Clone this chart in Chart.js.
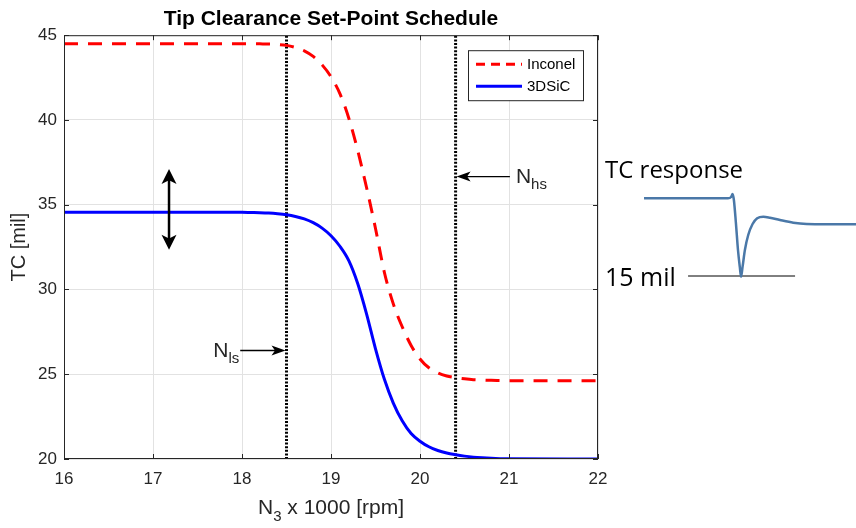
<!DOCTYPE html>
<html>
<head>
<meta charset="utf-8">
<script src="https://cdn.jsdelivr.net/npm/chart.js@4.4.0/dist/chart.umd.min.js"></script>
<style>
  html, body { margin: 0; padding: 0; background: #fff; }
  #wrap { position: relative; width: 856px; height: 528px; }
  #main { position: absolute; left: 0; top: 0; }
  #resp { position: absolute; left: 600px; top: 140px; }
</style>
</head>
<body>
<div id="wrap">
  <canvas id="main" width="856" height="528"></canvas>
  <canvas id="resp" width="256" height="170"></canvas>
</div>
<script>
// N3 x 1000 [rpm]
const speeds = [16, 17, 18, 18.1, 18.2, 18.3, 18.4, 18.5, 18.6, 18.7, 18.8, 18.9,
  19, 19.1, 19.2, 19.3, 19.4, 19.5, 19.6, 19.7, 19.8, 19.9,
  20, 20.1, 20.2, 20.3, 20.4, 20.5, 20.6, 20.7, 20.8, 20.9, 21, 22];
// TC [mil]
const inconel = [44.5, 44.5, 44.5, 44.5, 44.49, 44.48, 44.45, 44.4, 44.28, 44.08, 43.75, 43.25,
  42.55, 41.55, 40.1, 38.2, 36.0, 33.6, 31.0, 29.15, 27.8, 26.7,
  25.9, 25.38, 25.08, 24.9, 24.8, 24.73, 24.68, 24.66, 24.64, 24.63, 24.62, 24.62];
const sic3d = [34.55, 34.55, 34.55, 34.54, 34.53, 34.51, 34.47, 34.41, 34.31, 34.16, 33.94, 33.62,
  33.17, 32.55, 31.7, 30.35, 28.55, 26.5, 24.7, 23.3, 22.25, 21.5,
  21.05, 20.72, 20.5, 20.35, 20.25, 20.17, 20.11, 20.07, 20.04, 20.02, 20.01, 20.0];

const xRange = [16, 22];
const yRange = [20, 45];

// low / high speed set points
const nLs = 18.5;
const nHs = 20.4;

// annotation anchors, data units
const bandX = 17.18;          // double arrow
const bandY = [32.35, 37.1];
const lsArrow = { from: 17.98, y: 26.4 };
const hsArrow = { from: 21.01, y: 36.66 };

// TC response sketch (time, mil)
const respTime = [1.72, 5.0, 5.12, 5.18, 5.23, 5.31, 5.39, 5.46, 5.51, 5.57, 5.66, 5.79, 5.96,
  6.14, 6.38, 6.64, 7.03, 7.55, 8.07, 8.86, 10];
const respTC = [34.43, 34.43, 34.75, 35.5, 34.0, 28.18, 21.5, 17.33, 14.83, 17.33, 21.5, 25.25, 28.0,
  29.43, 29.83, 29.58, 29.0, 28.33, 28.0, 27.93, 27.93];
const floorTime = [3.44, 7.62];
const floorTC = [15, 15];

const FONT = "'Liberation Sans', Arial, sans-serif";
Chart.defaults.font.family = FONT;

const toXY = (xs, ys) => xs.map((x, i) => ({ x: x, y: ys[i] }));

function arrowHead(ctx, x, y, ang, len, wid) {
  const c = Math.cos(ang), s = Math.sin(ang);
  const bx = x - len * c, by = y - len * s;
  ctx.beginPath();
  ctx.moveTo(x, y);
  ctx.lineTo(bx + wid / 2 * s, by - wid / 2 * c);
  ctx.lineTo(x - len * 0.75 * c, y - len * 0.75 * s);
  ctx.lineTo(bx - wid / 2 * s, by + wid / 2 * c);
  ctx.closePath();
  ctx.fill();
}

function subLabel(ctx, x, y, main, sub, size, subSize, align) {
  ctx.font = size + "px " + FONT;
  const w1 = ctx.measureText(main).width;
  ctx.font = subSize + "px " + FONT;
  const w2 = ctx.measureText(sub).width;
  let x0 = x;
  if (align === "right") x0 = x - w1 - w2;
  if (align === "center") x0 = x - (w1 + w2) / 2;
  ctx.textAlign = "left";
  ctx.textBaseline = "alphabetic";
  ctx.font = size + "px " + FONT;
  ctx.fillText(main, x0, y);
  ctx.font = subSize + "px " + FONT;
  ctx.fillText(sub, x0 + w1, y + size * 0.3);
}

const frame = {
  id: "frame",
  afterDraw(chart) {
    const ctx = chart.ctx;
    const a = chart.chartArea;
    const xs = chart.scales.x, ys = chart.scales.y;
    ctx.save();

    // box + inner ticks
    ctx.strokeStyle = "#262626";
    ctx.lineWidth = 1;
    ctx.strokeRect(a.left + 0.5, a.top + 0.5, a.right - a.left - 1, a.bottom - a.top - 1);
    ctx.beginPath();
    xs.ticks.forEach(t => {
      const px = Math.round(xs.getPixelForValue(t.value)) + 0.5;
      ctx.moveTo(px, a.bottom); ctx.lineTo(px, a.bottom - 5);
      ctx.moveTo(px, a.top); ctx.lineTo(px, a.top + 5);
    });
    ys.ticks.forEach(t => {
      const py = Math.round(ys.getPixelForValue(t.value)) + 0.5;
      ctx.moveTo(a.left, py); ctx.lineTo(a.left + 5, py);
      ctx.moveTo(a.right, py); ctx.lineTo(a.right - 5, py);
    });
    ctx.stroke();

    // legend
    const lw = 115, lh = 50;
    const lx = a.right - 15 - lw, ly = a.top + 15;
    ctx.fillStyle = "#fff";
    ctx.fillRect(lx, ly, lw, lh);
    ctx.strokeStyle = "#262626";
    ctx.strokeRect(lx + 0.5, ly + 0.5, lw, lh);
    [0, 1].forEach((i, k) => {
      const ds = chart.data.datasets[i];
      const yy = ly + 14 + k * 22;
      ctx.strokeStyle = ds.borderColor;
      ctx.lineWidth = ds.borderWidth;
      ctx.setLineDash(ds.borderDash ? [9, 6] : []);
      ctx.beginPath();
      ctx.moveTo(lx + 8, yy); ctx.lineTo(lx + 54, yy);
      ctx.stroke();
      ctx.setLineDash([]);
      ctx.fillStyle = "#000";
      ctx.font = "15px " + FONT;
      ctx.textAlign = "left";
      ctx.textBaseline = "middle";
      ctx.fillText(ds.label, lx + 59, yy + 1);
    });

    // double arrow
    ctx.fillStyle = "#000";
    ctx.strokeStyle = "#000";
    const bx = xs.getPixelForValue(bandX);
    const by1 = ys.getPixelForValue(bandY[1]);
    const by0 = ys.getPixelForValue(bandY[0]);
    ctx.lineWidth = 2.5;
    ctx.beginPath();
    ctx.moveTo(bx, by1 + 10); ctx.lineTo(bx, by0 - 10);
    ctx.stroke();
    arrowHead(ctx, bx, by1, -Math.PI / 2, 15, 15);
    arrowHead(ctx, bx, by0, Math.PI / 2, 15, 15);

    // N_ls arrow
    ctx.lineWidth = 1.3;
    const lsTail = xs.getPixelForValue(lsArrow.from);
    const lsTip = xs.getPixelForValue(nLs) - 1;
    const lsY = ys.getPixelForValue(lsArrow.y);
    ctx.beginPath();
    ctx.moveTo(lsTail, lsY); ctx.lineTo(lsTip - 8, lsY);
    ctx.stroke();
    arrowHead(ctx, lsTip, lsY, 0, 14, 10);
    ctx.fillStyle = "#262626";
    subLabel(ctx, lsTail - 1, lsY + 6, "N", "ls", 21, 15, "right");

    // N_hs arrow
    ctx.fillStyle = "#000";
    const hsTail = xs.getPixelForValue(hsArrow.from);
    const hsTip = xs.getPixelForValue(nHs) + 1;
    const hsY = ys.getPixelForValue(hsArrow.y);
    ctx.beginPath();
    ctx.moveTo(hsTail, hsY); ctx.lineTo(hsTip + 8, hsY);
    ctx.stroke();
    arrowHead(ctx, hsTip, hsY, Math.PI, 14, 10);
    ctx.fillStyle = "#262626";
    subLabel(ctx, hsTail + 6, hsY + 6, "N", "hs", 21, 15, "left");

    // x axis title
    ctx.fillStyle = "#262626";
    const cx = (a.left + a.right) / 2;
    ctx.font = "21px " + FONT;
    const rest = " x 1000 [rpm]";
    const wN = ctx.measureText("N").width, wR = ctx.measureText(rest).width;
    ctx.font = "15px " + FONT;
    const w3 = ctx.measureText("3").width;
    const x0 = cx - (wN + w3 + wR) / 2;
    const base = 514;
    ctx.textAlign = "left";
    ctx.textBaseline = "alphabetic";
    ctx.font = "21px " + FONT;
    ctx.fillText("N", x0, base);
    ctx.font = "15px " + FONT;
    ctx.fillText("3", x0 + wN, base + 7);
    ctx.font = "21px " + FONT;
    ctx.fillText(rest, x0 + wN + w3, base);

    ctx.restore();
  }
};

new Chart(document.getElementById("main"), {
  type: "line",
  data: {
    datasets: [
      { label: "Inconel", data: toXY(speeds, inconel), borderColor: "#ff0000", borderWidth: 3,
        borderDash: [14, 10], pointRadius: 0, cubicInterpolationMode: "monotone" },
      { label: "3DSiC", data: toXY(speeds, sic3d), borderColor: "#0000ff", borderWidth: 3,
        pointRadius: 0, cubicInterpolationMode: "monotone" },
      { label: "N_ls", data: toXY([nLs, nLs], yRange), borderColor: "#000", borderWidth: 3,
        borderDash: [2, 1.6], pointRadius: 0 },
      { label: "N_hs", data: toXY([nHs, nHs], yRange), borderColor: "#000", borderWidth: 3,
        borderDash: [2, 1.6], pointRadius: 0 }
    ]
  },
  options: {
    responsive: false,
    animation: false,
    layout: { padding: { right: 258 } },
    plugins: {
      legend: { display: false },
      tooltip: { enabled: false },
      title: {
        display: true,
        fullSize: false,
        text: "Tip Clearance Set-Point Schedule",
        color: "#000",
        font: { size: 21, weight: "bold" },
        padding: { top: 6.5, bottom: 3.5 }
      }
    },
    scales: {
      x: {
        type: "linear",
        min: xRange[0], max: xRange[1],
        afterFit: s => { s.height = 69; },
        ticks: { stepSize: 1, padding: 10, color: "#262626", font: { size: 17 } },
        grid: { color: "#e2e2e2", drawTicks: false },
        border: { display: false }
      },
      y: {
        min: yRange[0], max: yRange[1],
        afterFit: s => { s.width = 64; },
        ticks: { stepSize: 5, padding: 7, color: "#262626", font: { size: 17 } },
        grid: { color: "#e2e2e2", drawTicks: false },
        border: { display: false },
        title: { display: true, text: "TC [mil]", color: "#262626", font: { size: 20 }, padding: { top: 7 } }
      }
    }
  },
  plugins: [frame]
});

const respText = {
  id: "respText",
  afterDraw(chart) {
    const ctx = chart.ctx;
    const ys = chart.scales.y;
    ctx.save();
    ctx.fillStyle = "#000";
    ctx.font = "24px 'Open Sans', sans-serif";
    ctx.textAlign = "left";
    ctx.textBaseline = "alphabetic";
    ctx.fillText("TC response", 5, 38);
    ctx.font = "25px 'Open Sans', sans-serif";
    ctx.fillText("15 mil", 5, ys.getPixelForValue(floorTC[0]) + 10);
    ctx.restore();
  }
};

new Chart(document.getElementById("resp"), {
  type: "line",
  data: {
    datasets: [
      { data: toXY(respTime, respTC), borderColor: "#4a78a8", borderWidth: 2.5, pointRadius: 0,
        cubicInterpolationMode: "monotone", clip: false },
      { data: toXY(floorTime, floorTC), borderColor: "#000", borderWidth: 1, pointRadius: 0, clip: false }
    ]
  },
  options: {
    responsive: false,
    animation: false,
    layout: { padding: 0 },
    plugins: { legend: { display: false }, tooltip: { enabled: false } },
    scales: {
      x: { type: "linear", display: false, min: 0, max: 10 },
      y: { display: false, min: 6.5, max: 49 }
    }
  },
  plugins: [respText]
});
</script>
</body>
</html>
